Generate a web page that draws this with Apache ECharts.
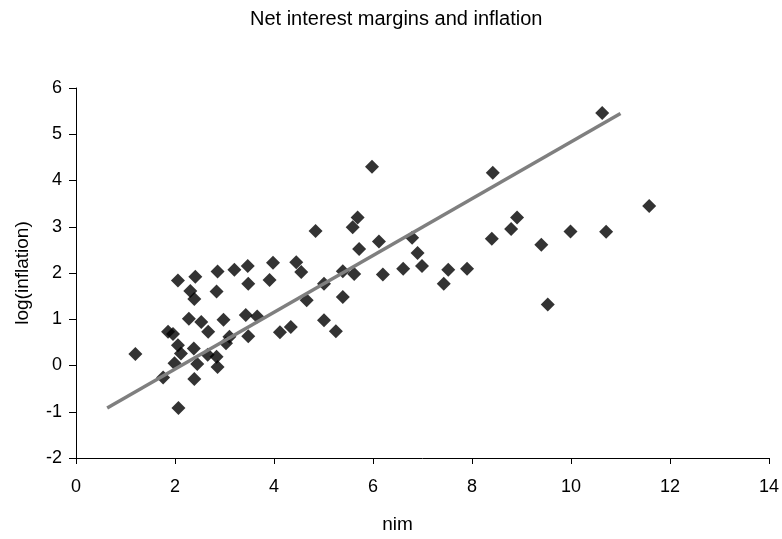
<!DOCTYPE html>
<html>
<head>
<meta charset="utf-8">
<script src="https://cdn.jsdelivr.net/npm/echarts@6/dist/echarts.min.js"></script>
<style>
  html, body { margin: 0; padding: 0; background: #fff; }
  #chart { width: 782px; height: 539px; }
</style>
</head>
<body>
<div id="chart"></div>
<script>
// net interest margin (x) and log inflation (y)
const nim = [
  1.20, 2.06, 2.41, 2.86, 3.20, 3.47, 3.98, 2.31, 2.39, 2.84,
  3.48, 3.91, 2.28, 2.53, 2.67, 2.98, 3.43, 3.66, 4.12, 3.48,
  1.86, 1.96, 2.06, 2.12, 2.38, 1.99, 2.45, 2.66, 2.84, 2.86,
  3.10, 3.03, 1.76, 2.39, 2.07,
  5.98, 5.69, 5.59, 4.84, 6.12, 6.79, 5.72, 6.90, 6.99, 4.45,
  4.55, 5.39, 5.62, 6.20, 6.61, 7.52, 7.90, 7.43, 5.01, 4.66,
  5.39, 4.34, 5.01, 5.25,
  10.63, 8.42, 11.58, 8.91, 8.79, 8.40, 9.99, 10.71, 9.40, 9.53
];
const logInflation = [
  0.25, 1.84, 1.92, 2.03, 2.07, 2.15, 2.22, 1.61, 1.44, 1.60,
  1.77, 1.85, 1.01, 0.94, 0.73, 0.99, 1.09, 1.06, 0.72, 0.63,
  0.73, 0.68, 0.44, 0.26, 0.37, 0.05, 0.03, 0.23, 0.19, -0.03,
  0.62, 0.48, -0.26, -0.29, -0.92,
  4.30, 3.20, 2.99, 2.91, 2.68, 2.76, 2.52, 2.43, 2.15, 2.23,
  2.02, 2.04, 1.98, 1.97, 2.09, 2.07, 2.09, 1.77, 1.77, 1.41,
  1.48, 0.83, 0.98, 0.74,
  5.46, 4.17, 3.45, 3.20, 2.95, 2.74, 2.90, 2.89, 2.61, 1.32
];

// fitted trend line end points
const trendX = [0.63, 11.0];
const trendY = [-0.92, 5.45];

const chart = echarts.init(document.getElementById('chart'));

const points = nim.map((x, i) => [x, logInflation[i]]);
const trend = trendX.map((x, i) => [x, trendY[i]]);

const labelFont = 'Liberation Sans, Arial, sans-serif';

chart.setOption({
  animation: false,
  title: {
    text: 'Net interest margins and inflation',
    left: 250,
    top: 9,
    padding: 0,
    textStyle: { fontFamily: labelFont, fontSize: 20, fontWeight: 'normal', color: '#000' }
  },
  grid: { left: 76, right: 13, top: 88, bottom: 80 },
  xAxis: {
    type: 'value',
    min: 0,
    max: 14,
    interval: 2,
    name: 'nim',
    nameLocation: 'middle',
    nameGap: 57,
    nameTextStyle: { fontFamily: labelFont, fontSize: 19, color: '#000', padding: [0, 50, 0, 0] },
    axisLine: { onZero: false, lineStyle: { color: '#000', width: 1 } },
    axisTick: { length: 6, lineStyle: { color: '#000' } },
    axisLabel: { margin: 20, fontFamily: labelFont, fontSize: 18, color: '#000' },
    splitLine: { show: false }
  },
  yAxis: {
    type: 'value',
    min: -2,
    max: 6,
    interval: 1,
    name: 'log(inflation)',
    nameLocation: 'middle',
    nameGap: 44,
    nameTextStyle: { fontFamily: labelFont, fontSize: 19, color: '#000' },
    axisLine: { show: true, onZero: false, lineStyle: { color: '#000', width: 1 } },
    axisTick: { show: true, length: 7, lineStyle: { color: '#000' } },
    axisLabel: { margin: 14, fontFamily: labelFont, fontSize: 18, color: '#000' },
    splitLine: { show: false }
  },
  series: [
    {
      type: 'scatter',
      symbol: 'diamond',
      symbolSize: 14,
      itemStyle: { color: '#000' },
      data: points
    },
    {
      type: 'line',
      symbol: 'none',
      lineStyle: { color: '#7f7f7f', width: 3.5 },
      data: trend
    }
  ]
});

window.addEventListener('resize', () => chart.resize());
</script>
</body>
</html>
